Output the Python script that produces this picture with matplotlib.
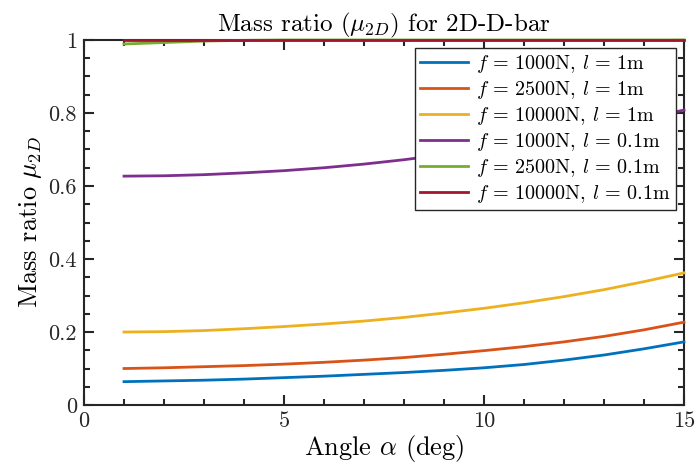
import matplotlib
matplotlib.use("Agg")
import matplotlib.pyplot as plt
from matplotlib.ticker import MultipleLocator

plt.rcParams['font.family'] = 'serif'
plt.rcParams['font.serif'] = ['cmr10']
plt.rcParams['mathtext.fontset'] = 'cm'
plt.rcParams['axes.unicode_minus'] = False
plt.rcParams['axes.formatter.use_mathtext'] = True

# angle in degrees
alpha = [1, 2, 3, 4, 5, 6, 7, 8, 9, 10, 11, 12, 13, 14, 15]

mu_f1000_l1 = [0.064, 0.066, 0.068, 0.071, 0.075, 0.079, 0.084, 0.089, 0.095, 0.102,
               0.111, 0.123, 0.137, 0.154, 0.173]
mu_f2500_l1 = [0.100, 0.102, 0.105, 0.108, 0.112, 0.117, 0.123, 0.130, 0.139, 0.149,
               0.160, 0.173, 0.188, 0.206, 0.227]
mu_f10000_l1 = [0.200, 0.201, 0.204, 0.209, 0.215, 0.222, 0.230, 0.240, 0.252, 0.265,
                0.280, 0.297, 0.316, 0.338, 0.362]
mu_f1000_l01 = [0.627, 0.628, 0.631, 0.636, 0.642, 0.650, 0.660, 0.672, 0.686, 0.702,
                0.720, 0.740, 0.762, 0.785, 0.808]
mu_f2500_l01 = [0.989, 0.993, 0.997, 0.999, 1.0, 1.0, 1.0, 1.0, 1.0, 1.0,
                1.0, 1.0, 1.0, 1.0, 1.0]
mu_f10000_l01 = [1.0] * 15

series = [mu_f1000_l1, mu_f2500_l1, mu_f10000_l1, mu_f1000_l01, mu_f2500_l01, mu_f10000_l01]
labels = [r'$f\,=\,1000$N, $l\,=\,1$m',
          r'$f\,=\,2500$N, $l\,=\,1$m',
          r'$f\,=\,10000$N, $l\,=\,1$m',
          r'$f\,=\,1000$N, $l\,=\,0.1$m',
          r'$f\,=\,2500$N, $l\,=\,0.1$m',
          r'$f\,=\,10000$N, $l\,=\,0.1$m']
colors = ['#0072BD', '#D95319', '#EDB120', '#7E2F8E', '#77AC30', '#A2142F']

fig = plt.figure(figsize=(6.96, 4.72), dpi=100)
ax = fig.add_axes([0.1207, 0.1419, 0.8621, 0.7734])

for y, lab, c in zip(series, labels, colors):
    ax.plot(alpha, y, color=c, lw=2, label=lab, clip_on=False, zorder=3)

ax.set_xlim(0, 15)
ax.set_ylim(0, 1)
ax.xaxis.set_minor_locator(MultipleLocator(1))
ax.yaxis.set_minor_locator(MultipleLocator(0.05))
ax.set_yticks([0, 0.2, 0.4, 0.6, 0.8, 1.0])
ax.set_yticklabels(['0', '0.2', '0.4', '0.6', '0.8', '1'])
ax.set_xticks([0, 5, 10, 15])
ax.set_xticklabels(['0', '5', '10', '15'])

for s in ax.spines.values():
    s.set_linewidth(1.5)
    s.set_color('#262626')
ax.tick_params(which='both', direction='in', top=True, right=True,
               colors='#262626', labelsize=16, width=1.5)
ax.tick_params(which='major', length=7, pad=5)
ax.tick_params(which='minor', length=4)

ax.set_xlabel(r'Angle $\alpha$ (deg)', fontsize=19, labelpad=1)
ax.set_ylabel(r'Mass ratio $\mu_{2D}$', fontsize=19, labelpad=3)
ax.set_title(r'Mass ratio ($\mu_{2D}$) for 2D-D-bar', fontsize=18, pad=3)

leg = ax.legend(loc='upper right', fontsize=14.5, frameon=True, fancybox=False,
                edgecolor='#262626', framealpha=1, borderaxespad=0.4,
                handlelength=2.4, handletextpad=0.4, labelspacing=0.2,
                borderpad=0.25)
leg.get_frame().set_linewidth(1.0)

fig.savefig('out.png', dpi=100)
